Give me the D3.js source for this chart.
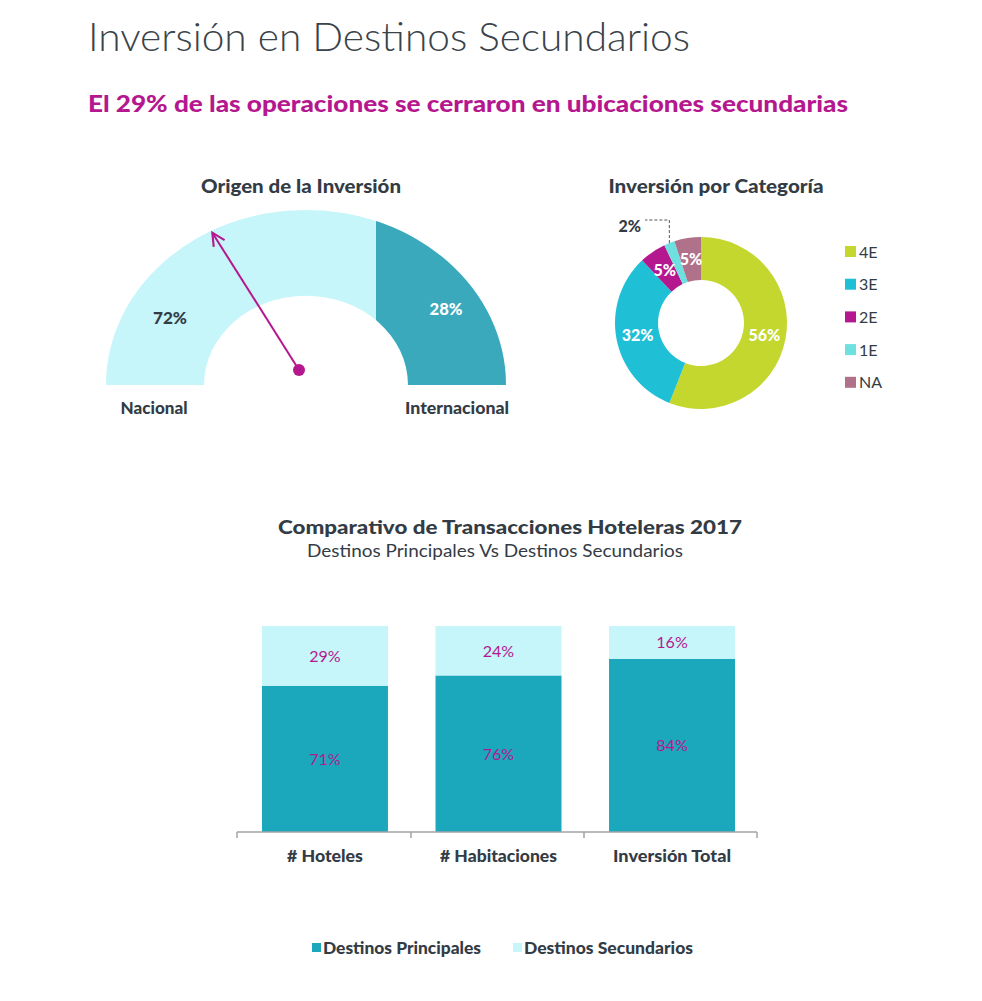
<!DOCTYPE html>
<html>
<head>
  <title>Inversión en Destinos Secundarios</title>
  <script src="https://d3js.org/d3.v7.min.js"></script>
  <style>
    body { margin: 0; background: #fff; }
    text { font-family: Lato, "Open Sans", sans-serif; fill: #333c45; }
    .bold { font-weight: 900; }
  </style>
</head>
<body>
  <script>
    var width = 982,
        height = 1001;

    // gauge data
    var origenLabels = ["Nacional", "Internacional"];
    var origenValues = [72, 28];

    // donut data
    var catLabels = ["4E", "3E", "2E", "1E", "NA"];
    var catValues = [56, 32, 5, 2, 5];
    var catColors = ["#c4d72e", "#1fbfd6", "#b5178f", "#6ee0e0", "#b0728a"];

    // bar data
    var barCategories = ["# Hoteles", "# Habitaciones", "Inversión Total"];
    var principales = [71, 76, 84];
    var secundarios = [29, 24, 16];
    var seriesNames = ["Destinos Principales", "Destinos Secundarios"];

    var dark = "#1ba8bc", light = "#c6f5fa", magenta = "#b5178f";

    var svg = d3.select("body").append("svg")
        .attr("width", width)
        .attr("height", height);

    // small helper: bold label stretched to the width seen in the picture
    function label(x, y, txt, size, w, anchor) {
      var t = svg.append("text").attr("class", "bold")
          .attr("x", x).attr("y", y)
          .attr("text-anchor", anchor || "middle")
          .style("font-size", size + "px")
          .text(txt);
      if (w) t.attr("textLength", w).attr("lengthAdjust", "spacingAndGlyphs");
      return t;
    }

    // headings
    svg.append("text")
        .attr("x", 88).attr("y", 51)
        .attr("textLength", 602)
        .attr("lengthAdjust", "spacingAndGlyphs")
        .style("font-size", "40px")
        .style("font-weight", 300)
        .style("fill", "#3a434a")
        .text("Inversión en Destinos Secundarios");

    svg.append("text")
        .attr("x", 88).attr("y", 112)
        .attr("textLength", 760)
        .attr("lengthAdjust", "spacingAndGlyphs")
        .style("font-size", "22px")
        .style("font-weight", 900)
        .style("fill", magenta)
        .text("El 29% de las operaciones se cerraron en ubicaciones secundarias");

    // ---------- gauge ----------
    var gcx = 306, gcy = 385, R = 200, r = 102;

    label(301, 193, "Origen de la Inversión", 18, 200);

    var gauge = svg.append("g")
        .attr("transform", "translate(" + gcx + "," + gcy + ") scale(1,0.875)");

    var ring = d3.arc()
        .innerRadius(r).outerRadius(R)
        .startAngle(-Math.PI / 2).endAngle(Math.PI / 2);

    var gaugeX = d3.scaleLinear().domain([0, 100]).range([-R, R]);
    var cut = gaugeX(origenValues[0]) - 18;

    svg.append("defs").append("clipPath")
        .attr("id", "intl")
        .append("rect")
        .attr("x", cut).attr("y", -R - 5)
        .attr("width", R - cut + 5).attr("height", R + 5);

    gauge.append("path").attr("d", ring()).style("fill", light);
    gauge.append("path").attr("d", ring())
        .attr("clip-path", "url(#intl)")
        .style("fill", "#3aa9bc");

    label(170, 324, origenValues[0] + "%", 17, 34);
    label(446, 315, origenValues[1] + "%", 17, 33).style("fill", "#fff");

    label(154, 414, origenLabels[0], 16, 67);
    label(457, 414, origenLabels[1], 16, 104);

    // needle
    var needleAngle = d3.scaleLinear().domain([0, 100]).range([0, Math.PI]);
    var a = needleAngle(origenValues[0]);
    var nx = 299, ny = 370, len = 136;
    var tx = nx + len * Math.cos(a), ty = ny - len * Math.sin(a) * 1.31;

    svg.append("defs").append("marker")
        .attr("id", "arrow")
        .attr("viewBox", "0 0 10 10")
        .attr("refX", 9).attr("refY", 5)
        .attr("markerWidth", 8).attr("markerHeight", 8)
        .attr("orient", "auto")
        .append("path")
        .attr("d", "M1,1 L9,5 L1,9")
        .style("fill", "none").style("stroke", magenta).style("stroke-width", 1.3);

    svg.append("line")
        .attr("x1", nx).attr("y1", ny)
        .attr("x2", tx).attr("y2", ty)
        .attr("marker-end", "url(#arrow)")
        .style("stroke", magenta).style("stroke-width", 2);
    svg.append("circle")
        .attr("cx", nx).attr("cy", ny).attr("r", 6)
        .style("fill", magenta);

    // ---------- donut ----------
    var dcx = 701, dcy = 323, dR = 86, dr = 43;

    label(716, 193, "Inversión por Categoría", 18, 215);

    var pie = d3.pie().sort(null).value(function(d) { return d; });
    var arc = d3.arc().innerRadius(dr).outerRadius(dR);
    var arcs = pie(catValues);

    var donut = svg.append("g").attr("transform", "translate(" + dcx + "," + dcy + ")");

    donut.selectAll("path")
        .data(arcs)
        .enter().append("path")
        .attr("d", arc)
        .style("fill", function(d, i) { return catColors[i]; });

    donut.selectAll(".lbl")
        .data(arcs.filter(function(d) { return d.data >= 5; }))
        .enter().append("text")
        .attr("class", "lbl bold")
        .attr("transform", function(d) {
          var c = arc.centroid(d);
          return "translate(" + c[0] + "," + (c[1] + 6) + ")";
        })
        .attr("text-anchor", "middle")
        .style("font-size", "16px")
        .style("fill", "#fff")
        .text(function(d) { return d.data + "%"; });

    // small slice with leader
    var small = arcs[3];
    var mid = (small.startAngle + small.endAngle) / 2;
    var px = Math.sin(mid) * dR, py = -Math.cos(mid) * dR;
    donut.append("path")
        .attr("d", "M" + px + "," + py + " V" + (-103) + " H" + (-56))
        .style("fill", "none").style("stroke", "#555")
        .style("stroke-dasharray", "3,2").style("stroke-width", 1);
    donut.append("text").attr("class", "bold")
        .attr("x", -60).attr("y", -91)
        .attr("text-anchor", "end")
        .style("font-size", "16px")
        .text(small.data + "%");

    // legend
    var leg = svg.append("g").attr("transform", "translate(845,246)");
    var li = leg.selectAll("g")
        .data(catLabels)
        .enter().append("g")
        .attr("transform", function(d, i) { return "translate(0," + (i * 32.7) + ")"; });
    li.append("rect").attr("width", 11).attr("height", 11)
        .style("fill", function(d, i) { return catColors[i]; });
    li.append("text").attr("x", 14).attr("y", 11.5)
        .style("font-size", "16px")
        .text(function(d) { return d; });

    // ---------- bar chart ----------
    label(510, 534, "Comparativo  de Transacciones Hoteleras 2017", 18, 464);
    svg.append("text")
        .attr("x", 495).attr("y", 557).attr("text-anchor", "middle")
        .attr("textLength", 376).attr("lengthAdjust", "spacingAndGlyphs")
        .style("font-size", "18px")
        .text("Destinos Principales Vs Destinos Secundarios");

    var x = d3.scaleBand()
        .domain(barCategories)
        .range([237, 760])
        .paddingInner(0.274)
        .paddingOuter(0.144);

    var y = d3.scaleLinear().domain([0, 100]).range([832, 626]);

    var bars = svg.append("g");
    bars.selectAll(".prin")
        .data(principales)
        .enter().append("rect")
        .attr("x", function(d, i) { return x(barCategories[i]); })
        .attr("y", function(d) { return y(d); })
        .attr("width", x.bandwidth())
        .attr("height", function(d) { return y(0) - y(d); })
        .style("fill", dark);
    bars.selectAll(".sec")
        .data(secundarios)
        .enter().append("rect")
        .attr("x", function(d, i) { return x(barCategories[i]); })
        .attr("y", function(d, i) { return y(principales[i] + d); })
        .attr("width", x.bandwidth())
        .attr("height", function(d) { return y(0) - y(d); })
        .style("fill", light);

    bars.selectAll(".plbl")
        .data(principales)
        .enter().append("text")
        .attr("x", function(d, i) { return x(barCategories[i]) + x.bandwidth() / 2; })
        .attr("y", function(d) { return y(d / 2) + 6; })
        .attr("text-anchor", "middle")
        .style("font-size", "16px").style("fill", magenta)
        .text(function(d) { return d + "%"; });
    bars.selectAll(".slbl")
        .data(secundarios)
        .enter().append("text")
        .attr("x", function(d, i) { return x(barCategories[i]) + x.bandwidth() / 2; })
        .attr("y", function(d, i) { return y(principales[i] + d / 2) + 6; })
        .attr("text-anchor", "middle")
        .style("font-size", "16px").style("fill", magenta)
        .text(function(d) { return d + "%"; });

    // axis with tick marks between categories
    var axis = svg.append("g").attr("transform", "translate(0,832)");
    axis.append("line").attr("x1", 237).attr("x2", 757)
        .style("stroke", "#a0a4a8").style("stroke-width", 1.5);
    var edges = [237, 411, 584, 757];
    axis.selectAll(".tk")
        .data(edges)
        .enter().append("line")
        .attr("x1", function(d) { return d; }).attr("x2", function(d) { return d; })
        .attr("y1", 0).attr("y2", 6)
        .style("stroke", "#a0a4a8").style("stroke-width", 1.5);
    var catW = [76, 117, 118];
    axis.selectAll(".cat")
        .data(barCategories)
        .enter().append("text")
        .attr("class", "bold")
        .attr("x", function(d) { return x(d) + x.bandwidth() / 2; })
        .attr("y", 30)
        .attr("text-anchor", "middle")
        .attr("textLength", function(d, i) { return catW[i]; })
        .attr("lengthAdjust", "spacingAndGlyphs")
        .style("font-size", "16px")
        .text(function(d) { return d; });

    // bottom legend
    var legColors = [dark, light];
    var legX = [312, 513];
    var legW = [158, 169];
    seriesNames.forEach(function(n, i) {
      svg.append("rect").attr("x", legX[i]).attr("y", 943)
          .attr("width", 9).attr("height", 9).style("fill", legColors[i]);
      label(legX[i] + 11, 954, n, 16, legW[i], "start");
    });
  </script>
</body>
</html>
